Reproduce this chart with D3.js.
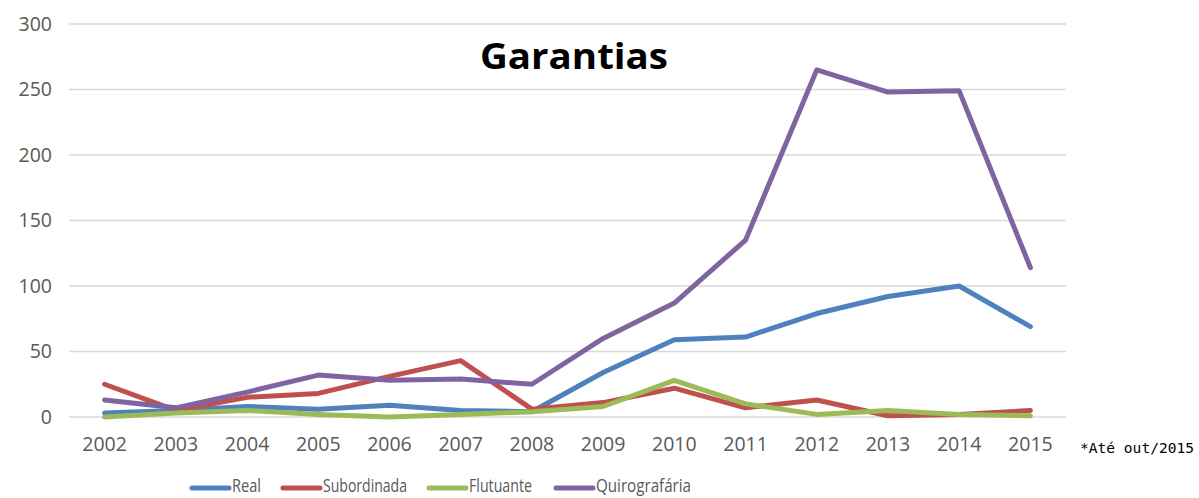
<!DOCTYPE html>
<html>
<head>
<meta charset="utf-8">
<script src="https://cdn.jsdelivr.net/npm/d3@7"></script>
<style>
  body { margin: 0; background: #fff; }
  svg { display: block; font-family: "Open Sans", sans-serif; }
</style>
</head>
<body>
<svg id="main" width="1199" height="498"></svg>
<script>
// anos e series
var years = ["2002","2003","2004","2005","2006","2007","2008","2009","2010","2011","2012","2013","2014","2015"]
var real = [3, 5, 8, 6, 9, 5, 4, 34, 59, 61, 79, 92, 100, 69]
var subordinada = [25, 5, 15, 18, 31, 43, 6, 11, 22, 7, 13, 1, 2, 5]
var flutuante = [0, 3, 5, 2, 0, 2, 4, 8, 28, 10, 2, 5, 2, 1]
var quirografaria = [13, 7, 19, 32, 28, 29, 25, 60, 87, 135, 265, 248, 249, 114]
var yTicks = [0, 50, 100, 150, 200, 250, 300]

var series = [
    { name: "Real", values: real, color: "#4F81BD" },
    { name: "Subordinada", values: subordinada, color: "#C0504D" },
    { name: "Flutuante", values: flutuante, color: "#9BBB59" },
    { name: "Quirografária", values: quirografaria, color: "#8064A2" }
]

var svg = d3.select('#main')

var x = d3.scaleBand().domain(years).range([69, 1066])
var y = d3.scaleLinear().domain([0, 300]).range([417, 24])

// grade horizontal
svg.append('g').selectAll('line').data(yTicks).enter().append('line')
    .attr('x1', 69).attr('x2', 1066)
    .attr('y1', function(d) { return y(d) }).attr('y2', function(d) { return y(d) })
    .attr('stroke', '#d9d9d9').attr('stroke-width', 1.5)

var yAxis = svg.append('g').attr('transform', 'translate(52,0)')
    .call(d3.axisLeft(y).tickValues(yTicks).tickSize(0).tickPadding(0))
yAxis.select('.domain').remove()
yAxis.selectAll('text').attr('fill', '#595959').style('font-size', '19.5px')
    .attr('font-family', '"Open Sans", sans-serif')

var xAxis = svg.append('g').attr('transform', 'translate(0,437)')
    .call(d3.axisBottom(x).tickSize(0).tickPadding(0))
xAxis.select('.domain').remove()
xAxis.selectAll('text').attr('fill', '#595959').style('font-size', '19.5px')
    .attr('font-family', '"Open Sans", sans-serif')

var line = d3.line()
    .x(function(d, i) { return x(years[i]) + x.bandwidth() / 2 })
    .y(function(d) { return y(d) })

svg.append('g').selectAll('path').data(series).enter().append('path')
    .attr('d', function(d) { return line(d.values) })
    .attr('fill', 'none')
    .attr('stroke', function(d) { return d.color })
    .attr('stroke-width', 5)
    .attr('stroke-linejoin', 'round')
    .attr('stroke-linecap', 'round')

svg.append('text')
    .attr('x', 480).attr('y', 69)
    .style('font-size', '35px').style('font-weight', 'bold')
    .attr('textLength', 188).attr('lengthAdjust', 'spacingAndGlyphs')
    .attr('fill', '#000')
    .text('Garantias')

svg.append('text')
    .attr('x', 1080).attr('y', 453)
    .style('font-family', '"DejaVu Sans Mono", monospace')
    .style('font-size', '14px')
    .attr('textLength', 114).attr('lengthAdjust', 'spacingAndGlyphs')
    .attr('fill', '#000')
    .text('*Até out/2015')

// legenda
var legendX = [192, 283, 429, 556]
var legendW = [29, 84, 63, 95]
var lg = svg.append('g').selectAll('g').data(series).enter().append('g')
    .attr('transform', function(d, i) { return 'translate(' + legendX[i] + ',488)' })
lg.append('line')
    .attr('x1', 0).attr('x2', 37).attr('y1', 0).attr('y2', 0)
    .attr('stroke', function(d) { return d.color })
    .attr('stroke-width', 5).attr('stroke-linecap', 'round')
lg.append('text')
    .attr('x', 40).attr('y', 4)
    .attr('fill', '#595959').style('font-size', '18.5px')
    .attr('textLength', function(d, i) { return legendW[i] })
    .attr('lengthAdjust', 'spacingAndGlyphs')
    .text(function(d) { return d.name })
</script>
</body>
</html>
